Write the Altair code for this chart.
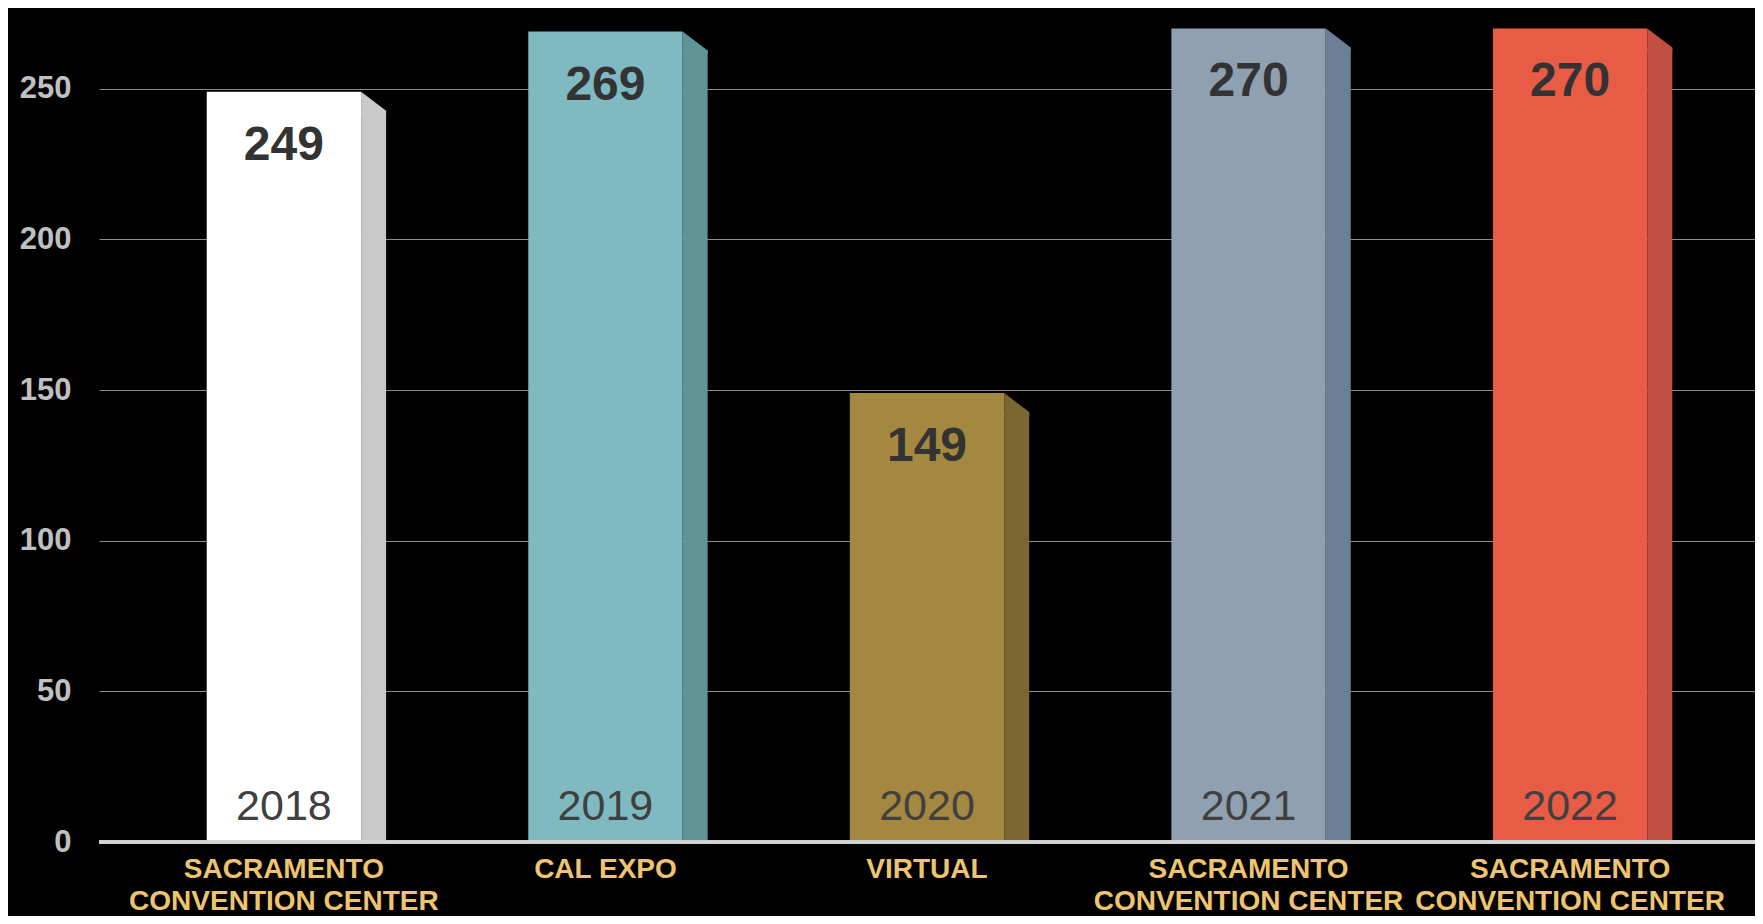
import altair as alt
import pandas as pd

years = ["2018", "2019", "2020", "2021", "2022"]
values = [249, 269, 149, 270, 270]
locations = [
    "SACRAMENTO\nCONVENTION CENTER",
    "CAL EXPO",
    "VIRTUAL",
    "SACRAMENTO\nCONVENTION CENTER",
    "SACRAMENTO\nCONVENTION CENTER",
]
front_colors = ["#ffffff", "#7fbac3", "#a4883f", "#8fa0b0", "#e85c45"]
side_colors = ["#c9c9c9", "#5f9497", "#7b6632", "#6b8097", "#c24f41"]
y_ticks = [0, 50, 100, 150, 200, 250]

df = pd.DataFrame({
    "year": years,
    "value": values,
    "location": locations,
    "front": front_colors,
    "side": side_colors,
})

FONT = "Liberation Sans, Arial, sans-serif"
W, H = 1656, 834
BAND_HALF = 77.2
SIDE_W = 25
SIDE_OFF = BAND_HALF + SIDE_W / 2

x = alt.X("year:N", sort=years,
          scale=alt.Scale(paddingInner=0.52, paddingOuter=0.335),
          axis=None)
yscale = alt.Scale(domain=[0, 276.8], nice=False, zero=True)
yaxis = alt.Axis(values=y_ticks, title=None, grid=True, gridColor="#8c8c8c",
                 gridWidth=1, domain=False, ticks=False, labelFontSize=31,
                 labelFont=FONT, labelFontWeight="bold", labelColor="#c0c0c0",
                 labelPadding=28)
y = alt.Y("value:Q", scale=yscale, axis=yaxis)

base = alt.Chart(df)

front = base.mark_bar().encode(
    x=x, y=y, color=alt.Color("front:N", scale=None))

side = base.mark_bar(width=SIDE_W, xOffset=SIDE_OFF, yOffset=19).encode(
    x=x, y=y, y2=alt.datum(0), color=alt.Color("side:N", scale=None))

wedge = base.mark_point(
    shape="M-1,-1L1,0.52L1,0.8L-1,0.8Z", size=SIDE_W * SIDE_W,
    filled=True, opacity=1, strokeWidth=0, xOffset=SIDE_OFF,
    yOffset=SIDE_W / 2,
).encode(x=x, y=y, color=alt.Color("side:N", scale=None))

zero_rule = base.mark_rule(color="#d4d4d4", strokeWidth=3).encode(
    y=alt.datum(0, scale=yscale))

value_text = base.mark_text(
    font=FONT, fontSize=48, fontWeight="bold", color="#333333",
    baseline="alphabetic", dy=68,
).encode(x=x, y=y, text="value:Q")

year_text = base.mark_text(
    font=FONT, fontSize=43, color="#404040", baseline="alphabetic", dy=-22,
).encode(x=x, y=alt.datum(0), text="year:N")

cat_text = base.mark_text(
    font=FONT, fontSize=28, fontWeight="bold", color="#efc46e",
    baseline="alphabetic", dy=36, lineBreak="\n", lineHeight=32,
).encode(x=x, y=alt.datum(0), text="location:N")

chart = alt.layer(
    front, side, wedge, zero_rule, value_text, year_text, cat_text
).properties(
    width=W, height=H,
    padding={"left": 91, "top": 0, "right": 0, "bottom": 74},
    autosize=alt.AutoSizeParams(type="none"),
    background="#000000",
).configure_view(stroke=None)

chart.save("out.html", embed_options={"renderer": "svg", "actions": False})
